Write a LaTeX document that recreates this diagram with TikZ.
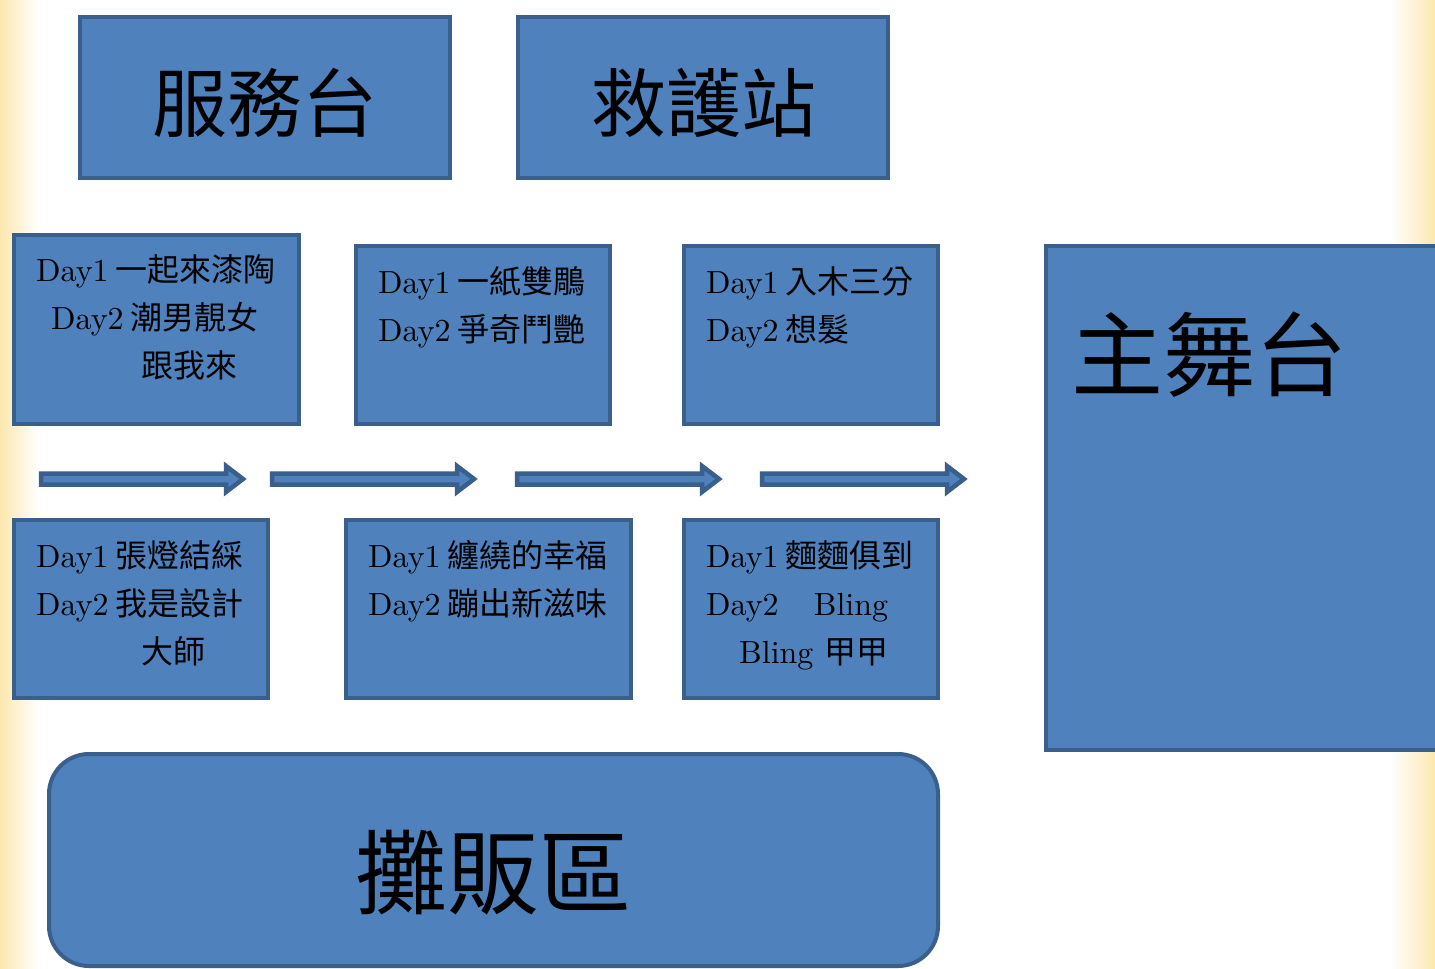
\documentclass[tikz,border=0pt]{standalone}
\usepackage{fontspec}
\setmainfont{lmroman10-regular.otf}[BoldFont=lmroman10-bold.otf]
\newfontfamily\cjk{Noto Sans CJK TC}
\definecolor{boxfill}{HTML}{4F81BD}
\definecolor{boxline}{HTML}{3A5F8B}
\definecolor{glow}{HTML}{FBE3A0}
\newcommand\gp{\hspace{0.2em}}
\tikzset{
  blk/.style={fill=boxfill,draw=boxline,line width=4pt},
  daytxt/.style={anchor=base west,inner sep=0pt,font=\fontsize{32}{38}\selectfont},
  title/.style={inner sep=0pt,font=\fontsize{75}{80}\selectfont\cjk},
  bigtitle/.style={inner sep=0pt,font=\fontsize{92}{96}\selectfont\cjk},
  barrow/.style={fill=boxfill,draw=boxline,line width=4.5pt,line join=miter}
}
\begin{document}
\begin{tikzpicture}[x=1pt,y=-1pt]
\useasboundingbox (0,0) rectangle (1435,969);
\clip (0,0) rectangle (1435,969);
\fill[white] (0,0) rectangle (1435,969);
% soft glow at the edges
\shade[left color=glow!85,right color=white] (0,0) rectangle (38,969);
\shade[left color=white,right color=glow!85] (1390,0) rectangle (1435,245);
\shade[left color=white,right color=glow!85] (1390,752) rectangle (1435,969);
% top boxes
\draw[blk] (80,17) rectangle (450,178);
\node[title] (fuwu) at (265,103) {服務台};
\draw[blk] (518,17) rectangle (888,178);
\node[title] (jiuhu) at (704,103) {救護站};
% upper row
\draw[blk] (14,235) rectangle (299,424);
\node[daytxt] (a1) at (36,281) {Day1\gp{\cjk 一起來漆陶}};
\node[daytxt] (a2) at (51,329) {Day2\gp{\cjk 潮男靚女}};
\node[daytxt] (a3) at (141,377) {\cjk 跟我來};
\draw[blk] (356,246) rectangle (610,424);
\node[daytxt] (b1) at (378,293) {Day1\gp{\cjk 一紙雙鵰}};
\node[daytxt] (b2) at (378,341) {Day2\gp{\cjk 爭奇鬥艷}};
\draw[blk] (684,246) rectangle (938,424);
\node[daytxt] (c1) at (706,293) {Day1\gp{\cjk 入木三分}};
\node[daytxt] (c2) at (706,341) {Day2\gp{\cjk 想髮}};
% block arrows
\foreach \xs/\xe in {41/243, 272/474, 517/719, 762/964}{
  \draw[barrow] (\xs,473.5) -- (\xe-17,473.5) -- (\xe-17,466) -- (\xe,479) -- (\xe-17,492) -- (\xe-17,484.5) -- (\xs,484.5) -- cycle;
}
% lower row
\draw[blk] (14,520) rectangle (268,698);
\node[daytxt] (d1) at (36,567) {Day1\gp{\cjk 張燈結綵}};
\node[daytxt] (d2) at (36,615) {Day2\gp{\cjk 我是設計}};
\node[daytxt] (d3) at (141,663) {\cjk 大師};
\draw[blk] (346,520) rectangle (631,698);
\node[daytxt] (e1) at (368,567) {Day1\gp{\cjk 纏繞的幸福}};
\node[daytxt] (e2) at (368,615) {Day2\gp{\cjk 蹦出新滋味}};
\draw[blk] (684,520) rectangle (938,698);
\node[daytxt] (f1) at (706,567) {Day1\gp{\cjk 麵麵俱到}};
\node[daytxt] (f2) at (706,615) {Day2\hspace{1.1em}Bling};
\node[daytxt] (f3) at (739,663) {Bling {\cjk 甲甲}};
% main stage
\draw[blk] (1046,246) rectangle (1450,750);
\node[bigtitle,anchor=west] (stage) at (1071,355) {主舞台};
% vendor area
\draw[blk,rounded corners=40pt] (49,754) rectangle (938,966);
\node[bigtitle] (vendor) at (493,873) {攤販區};
\end{tikzpicture}
\end{document}
